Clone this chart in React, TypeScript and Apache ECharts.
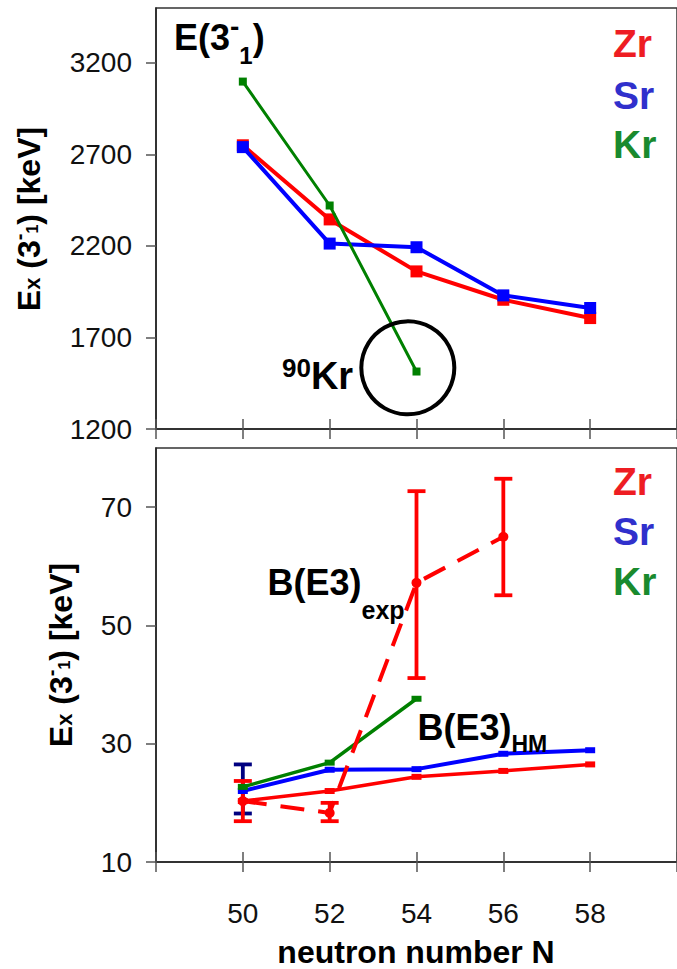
import React, { useEffect, useRef } from 'react';
import * as echarts from 'echarts';

// ---------- data ----------
const neutronN = [50, 52, 54, 56, 58];
const xTickValues = [50, 52, 54, 56, 58];
const energyTicks = [1200, 1700, 2200, 2700, 3200];
const bTicks = [10, 30, 50, 70];

// E(3-1) in keV
const zrEnergy = [2750, 2345, 2061, 1906, 1806];
const srEnergy = [2740, 2213, 2193, 1930, 1861];
const krEnergy = [3098, 2421, 1514];
const kr90Circle = [53.8, 1534];

// B(E3) HM (solid)
const zrBHM = [20.3, 22.0, 24.4, 25.4, 26.5];
const srBHM = [22.0, 25.6, 25.7, 28.3, 28.9];
const krBHM = [22.7, 26.8, 37.6];

// B(E3) exp (dashed, with error bars)
const zrBExp = [20.3, 18.3, 57.2, 65.0];
const zrBExpLow = [16.9, 16.9, 41.1, 55.1];
const zrBExpHigh = [23.7, 20.0, 72.7, 74.8];
const srBExpLow = [18.2];
const srBExpHigh = [26.5];

const FF = "'Liberation Sans', Arial, Helvetica, sans-serif";
const RED = '#ff0000';
const BLUE = '#0000ff';
const GREEN = '#008000';
const NAVY = '#000080';
const ZR_TXT = '#ee1d23';
const SR_TXT = '#3030cc';
const KR_TXT = '#198a2e';

const pairs = (vals: number[]) => vals.map((v, i) => [neutronN[i], v]);
const errPairs = (lo: number[], hi: number[]) => lo.map((l, i) => [neutronN[i], l, hi[i]]);

const errorBarSeries = (data: number[][], color: string, xi: number, yi: number) => ({
  type: 'custom',
  xAxisIndex: xi,
  yAxisIndex: yi,
  encode: { x: 0, y: [1, 2] },
  data,
  z: 2,
  renderItem: (_p: any, api: any) => {
    const x = api.value(0);
    const lo = api.coord([x, api.value(1)]);
    const hi = api.coord([x, api.value(2)]);
    const hw = 9;
    const style = { stroke: color, lineWidth: 3.8, fill: 'none' };
    return {
      type: 'group',
      children: [
        { type: 'line', shape: { x1: lo[0], y1: lo[1], x2: hi[0], y2: hi[1] }, style },
        { type: 'line', shape: { x1: lo[0] - hw, y1: lo[1], x2: lo[0] + hw, y2: lo[1] }, style },
        { type: 'line', shape: { x1: hi[0] - hw, y1: hi[1], x2: hi[0] + hw, y2: hi[1] }, style },
      ],
    };
  },
});

const tok = (fontSize: number, extra: any = {}) => ({
  fontSize,
  fontWeight: 'bold',
  fontFamily: FF,
  ...extra,
});

const legendText = (x: number, baseline: number, text: string, color: string) => ({
  type: 'text',
  x,
  y: baseline - 0.3465 * 39,
  z: 100,
  style: { text, fill: color, fontSize: 39, fontWeight: 'bold', fontFamily: FF, align: 'left', verticalAlign: 'middle' },
});

const yNameText = (cx: number, cy: number) => ({
  type: 'text',
  x: cx,
  y: cy,
  rotation: Math.PI / 2,
  z: 100,
  style: {
    text: '{m|E}{x|x}{m| (3}{sup|-}{sub|1}{m|) [keV]}',
    fill: '#000',
    align: 'center',
    verticalAlign: 'middle',
    rich: {
      m: tok(32, { lineHeight: 50 }),
      x: tok(22, { padding: [7, 0, 0, 0] }),
      sup: tok(20, { padding: [0, 0, 21, 0] }),
      sub: tok(16, { padding: [7, 0, 0, 0] }),
    },
  },
});

const xAxisPair = (gridIndex: number, showLabels: boolean) => [
  {
    type: 'value',
    gridIndex,
    position: 'bottom',
    min: 48,
    max: 60,
    interval: 2,
    axisLine: { show: true, lineStyle: { color: '#222', width: 1.5 } },
    axisTick: { show: true, inside: false, length: 10, lineStyle: { color: '#555', width: 1.5 } },
    axisLabel: {
      show: showLabels,
      customValues: xTickValues,
      formatter: (v: number) => (xTickValues.indexOf(v) >= 0 ? String(v) : ''),
      fontSize: 28,
      fontFamily: FF,
      color: '#111',
      margin: 37,
    },
    splitLine: { show: false },
  },
  {
    type: 'value',
    gridIndex,
    position: 'bottom',
    min: 48,
    max: 60,
    interval: 2,
    axisLine: { show: false },
    axisTick: { show: true, inside: true, length: 10, lineStyle: { color: '#555', width: 1.5 } },
    axisLabel: { show: false },
    splitLine: { show: false },
  },
];

export default function App() {
  const ref = useRef<HTMLDivElement>(null);
  useEffect(() => {
    document.body.style.margin = '0';
    if (!ref.current) return;
    const chart = echarts.init(ref.current, undefined, { renderer: 'svg' });
    const option: any = {
      animation: false,
      backgroundColor: '#fff',
      grid: [
        { left: 156, top: 8, width: 530, height: 421, show: true, borderColor: '#333', borderWidth: 1.5, backgroundColor: 'transparent' },
        { left: 156, top: 448, width: 530, height: 414, show: true, borderColor: '#333', borderWidth: 1.5, backgroundColor: 'transparent' },
      ],
      xAxis: [...xAxisPair(0, false), ...xAxisPair(1, true)],
      yAxis: [
        {
          type: 'value',
          gridIndex: 0,
          min: 1200,
          max: 3500,
          interval: 500,
          axisLine: { show: true, lineStyle: { color: '#222', width: 1.5 } },
          axisTick: { show: true, length: 10, customValues: energyTicks, lineStyle: { color: '#555', width: 1.5 } },
          axisLabel: {
            customValues: energyTicks,
            formatter: (v: number) => (energyTicks.indexOf(v) >= 0 ? String(v) : ''),
            fontSize: 28,
            fontFamily: FF,
            color: '#111',
            margin: 24,
          },
          splitLine: { show: false },
        },
        {
          type: 'value',
          gridIndex: 1,
          min: 10,
          max: 80,
          interval: 20,
          axisLine: { show: true, lineStyle: { color: '#222', width: 1.5 } },
          axisTick: { show: true, length: 10, customValues: bTicks, lineStyle: { color: '#555', width: 1.5 } },
          axisLabel: {
            customValues: bTicks,
            formatter: (v: number) => (bTicks.indexOf(v) >= 0 ? String(v) : ''),
            fontSize: 28,
            fontFamily: FF,
            color: '#111',
            margin: 24,
          },
          splitLine: { show: false },
        },
      ],
      series: [
        // ---- top panel ----
        {
          name: 'Zr E3', type: 'line', xAxisIndex: 0, yAxisIndex: 0, data: pairs(zrEnergy),
          symbol: 'rect', symbolSize: 12, itemStyle: { color: RED, opacity: 1 }, lineStyle: { color: RED, width: 4 }, z: 3,
        },
        {
          name: 'Sr E3', type: 'line', xAxisIndex: 0, yAxisIndex: 0, data: pairs(srEnergy),
          symbol: 'rect', symbolSize: 12, itemStyle: { color: BLUE, opacity: 1 }, lineStyle: { color: BLUE, width: 4 }, z: 4,
        },
        {
          name: 'Kr E3', type: 'line', xAxisIndex: 0, yAxisIndex: 0, data: pairs(krEnergy),
          symbol: 'rect', symbolSize: 8, itemStyle: { color: GREEN, opacity: 1 }, lineStyle: { color: GREEN, width: 3 }, z: 5,
        },
        {
          name: '90Kr', type: 'scatter', xAxisIndex: 0, yAxisIndex: 0, data: [kr90Circle],
          symbol: 'circle', symbolSize: 93,
          itemStyle: { color: 'rgba(0,0,0,0)', borderColor: '#000', borderWidth: 4, opacity: 1 }, z: 6,
        },
        // ---- bottom panel ----
        errorBarSeries(errPairs(srBExpLow, srBExpHigh), NAVY, 2, 1),
        errorBarSeries(errPairs(zrBExpLow, zrBExpHigh), RED, 2, 1),
        {
          name: 'Zr HM', type: 'line', xAxisIndex: 2, yAxisIndex: 1, data: pairs(zrBHM),
          symbol: 'rect', symbolSize: [10, 6], itemStyle: { color: RED, opacity: 1 }, lineStyle: { color: RED, width: 3.5 }, z: 3,
        },
        {
          name: 'Sr HM', type: 'line', xAxisIndex: 2, yAxisIndex: 1, data: pairs(srBHM),
          symbol: 'rect', symbolSize: [10, 6], itemStyle: { color: BLUE, opacity: 1 }, lineStyle: { color: BLUE, width: 4 }, z: 4,
        },
        {
          name: 'Kr HM', type: 'line', xAxisIndex: 2, yAxisIndex: 1, data: pairs(krBHM),
          symbol: 'rect', symbolSize: [10, 6], itemStyle: { color: GREEN, opacity: 1 }, lineStyle: { color: GREEN, width: 3.5 }, z: 5,
        },
        {
          name: 'Zr exp', type: 'line', xAxisIndex: 2, yAxisIndex: 1, data: pairs(zrBExp),
          symbol: 'circle', symbolSize: 10, itemStyle: { color: RED, opacity: 1 },
          lineStyle: { color: RED, width: 4, type: [24, 14] }, z: 6,
        },
      ],
      graphic: [
        // title
        {
          type: 'text', x: 174, y: 37.5, z: 100,
          style: {
            text: '{m|E(3}{sup|-}{sub|1}{m|)}', fill: '#000', align: 'left', verticalAlign: 'middle',
            rich: {
              m: tok(36, { lineHeight: 80 }),
              sup: tok(28, { padding: [0, 0, 23, 0] }),
              sub: tok(24, { padding: [36, 0, 0, 0] }),
            },
          },
        },
        legendText(613, 56.7, 'Zr', ZR_TXT),
        legendText(613, 109, 'Sr', SR_TXT),
        legendText(613, 158.3, 'Kr', KR_TXT),
        legendText(613, 495, 'Zr', ZR_TXT),
        legendText(613, 545, 'Sr', SR_TXT),
        legendText(613, 595, 'Kr', KR_TXT),
        // 90Kr
        {
          type: 'text', x: 282, y: 375.8, z: 100,
          style: {
            text: '{s|90}{k|Kr}', fill: '#000', align: 'left', verticalAlign: 'middle',
            rich: { k: tok(38, { lineHeight: 50 }), s: tok(26, { padding: [0, 0, 15.6, 0] }) },
          },
        },
        // B(E3)exp
        {
          type: 'text', x: 267.5, y: 582.5, z: 100,
          style: {
            text: '{m|B(E3)}{s|exp}', fill: '#000', align: 'left', verticalAlign: 'middle',
            rich: { m: tok(36, { lineHeight: 90 }), s: tok(25, { padding: [54, 0, 0, 0] }) },
          },
        },
        // B(E3)HM
        {
          type: 'text', x: 417.5, y: 727.5, z: 100,
          style: {
            text: '{m|B(E3)}{s|HM}', fill: '#000', align: 'left', verticalAlign: 'middle',
            rich: { m: tok(36, { lineHeight: 70 }), s: tok(23, { padding: [33, 0, 0, 0] }) },
          },
        },
        // y-axis names
        yNameText(29, 219),
        yNameText(61, 655),
        // x-axis name
        {
          type: 'text', x: 416, y: 952, z: 100,
          style: {
            text: 'neutron number N', fill: '#000', fontSize: 32, fontWeight: 'bold', fontFamily: FF,
            align: 'center', verticalAlign: 'middle',
          },
        },
      ],
    };
    chart.setOption(option);
    return () => chart.dispose();
  }, []);
  return <div ref={ref} style={{ width: 677, height: 969 }} />;
}
